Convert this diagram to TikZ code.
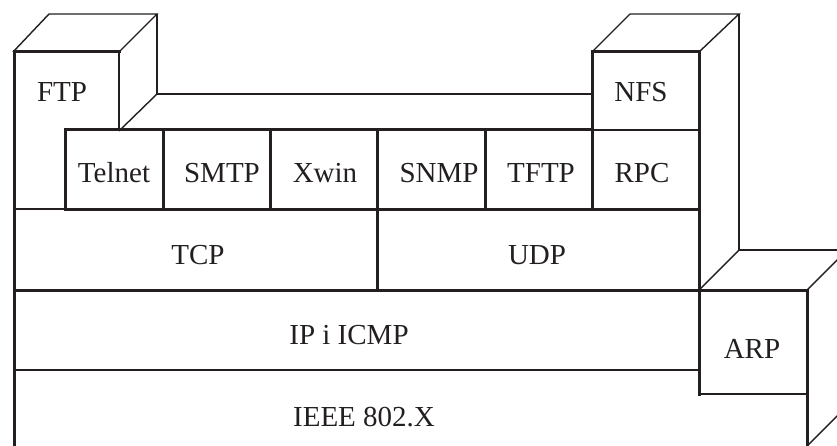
\documentclass[tikz,border=0pt]{standalone}
\usepackage{fontspec}
\setmainfont{Liberation Serif}
\definecolor{ink}{HTML}{231F20}
\begin{document}
\begin{tikzpicture}[x=1pt,y=-1pt,
  thickln/.style={draw=ink,line width=3pt,line cap=rect},
  midln/.style={draw=ink,line width=2pt},
  thinln/.style={draw=ink,line width=1.4pt,line join=miter},
  lbl/.style={anchor=base,text=ink,inner sep=0pt,font=\fontsize{29}{34}\selectfont}]
\useasboundingbox (0,0) rectangle (837,446);
\clip (0,0) rectangle (837,446);
\fill[white] (0,0) rectangle (837,446);
% ---- thin back (3D) lines ----
\draw[thinln] (13,52) -- (49,14) -- (157,14) -- (119,52);
\draw[thinln] (119,52) -- (119,130);
\draw[thinln] (157,14) -- (157,94) -- (592,94);
\draw[thinln] (157,94) -- (119,131);
\draw[thinln] (592,52) -- (630,14) -- (739,14) -- (699,52);
\draw[thinln] (739,14) -- (739,250) -- (860,250);
\draw[thinln] (739,250) -- (699,290);
\draw[thinln] (807,290) -- (847,250);
\draw[thinln] (807,446) -- (847,406);
% ---- medium lines ----
\draw[midln] (13,209) -- (65,209);
\draw[midln] (592,130) -- (699,130);
\draw[midln] (13,370) -- (699,370);
\draw[midln] (699,394) -- (807,394);
% ---- thick front lines ----
\draw[thickln] (14,52) -- (14,460);
\draw[thickln] (14,52) -- (119,52);
\draw[thickln] (65,130) -- (592,130);
\draw[thickln] (65,130) -- (65,210) -- (699,210);
\draw[thickln] (163,130) -- (163,210);
\draw[thickln] (270,130) -- (270,210);
\draw[thickln] (377,130) -- (377,290);
\draw[thickln] (485,130) -- (485,210);
\draw[thickln] (592,52) -- (592,210);
\draw[thickln] (592,52) -- (699,52) -- (699,394);
\draw[thickln] (14,290) -- (807,290) -- (807,460);
% ---- labels ----
\node[lbl] (ftp)    at (62,102)  {FTP};
\node[lbl] (nfs)    at (641,102) {NFS};
\node[lbl] (telnet) at (114,183) {Telnet};
\node[lbl] (smtp)   at (222,183) {SMTP};
\node[lbl] (xwin)   at (325,183) {Xwin};
\node[lbl] (snmp)   at (439,183) {SNMP};
\node[lbl] (tftp)   at (541,183) {TFTP};
\node[lbl] (rpc)    at (642,183) {RPC};
\node[lbl] (tcp)    at (198,264) {TCP};
\node[lbl] (udp)    at (537,264) {UDP};
\node[lbl] (ip)     at (349,344) {IP i ICMP};
\node[lbl] (arp)    at (752,358) {ARP};
\node[lbl] (ieee)   at (364,426) {IEEE 802.X};
\end{tikzpicture}
\end{document}
